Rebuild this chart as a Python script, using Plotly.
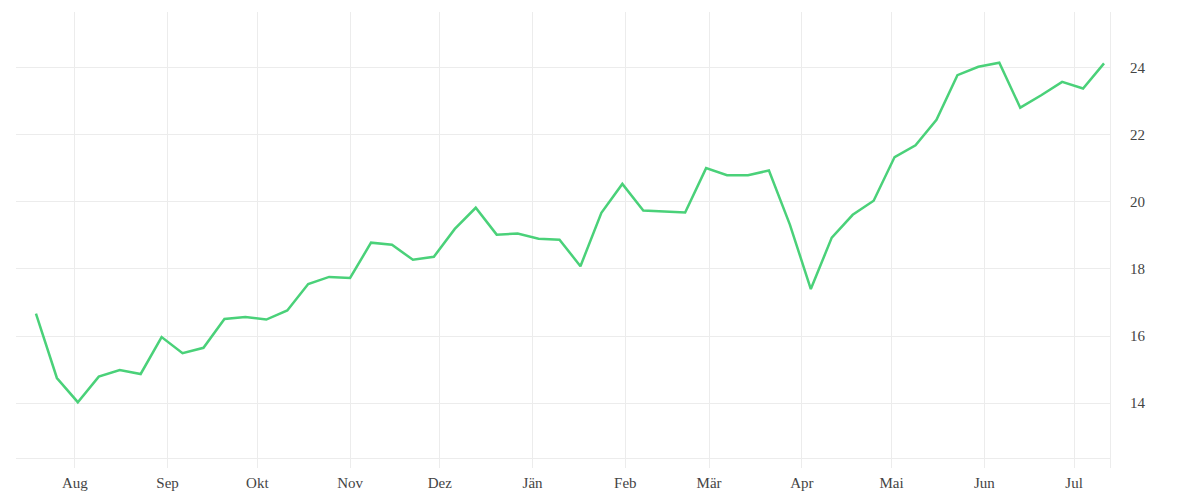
import pandas as pd
import plotly.graph_objects as go

# weekly values, first week 2020-07-19
start_date = "2020-07-19"
values = [16.67, 14.75, 14.03, 14.79, 14.99, 14.87, 15.97, 15.49, 15.65, 16.51,
          16.57, 16.49, 16.76, 17.55, 17.76, 17.73, 18.78, 18.72, 18.27, 18.36,
          19.19, 19.82, 19.02, 19.05, 18.90, 18.87, 18.08, 19.67, 20.53, 19.74,
          19.71, 19.68, 21.00, 20.79, 20.79, 20.93, 19.32, 17.40, 18.93, 19.61,
          20.03, 21.33, 21.68, 22.44, 23.77, 24.02, 24.14, 22.80, 23.17, 23.57,
          23.37, 24.12]
month_ticks = ["2020-08-01", "2020-09-01", "2020-10-01", "2020-11-01", "2020-12-01",
               "2021-01-01", "2021-02-01", "2021-03-01", "2021-04-01", "2021-05-01",
               "2021-06-01", "2021-07-01"]
month_labels = ["Aug", "Sep", "Okt", "Nov", "Dez", "Jän", "Feb", "Mär", "Apr",
                "Mai", "Jun", "Jul"]
# lowest grid line has no label
y_ticks = [12.36, 14, 16, 18, 20, 22, 24]
y_labels = ["", "14", "16", "18", "20", "22", "24"]

dates = pd.date_range(start_date, periods=len(values), freq="7D")

grid = "#ececec"
fig = go.Figure()
fig.add_trace(go.Scatter(x=dates, y=values, mode="lines",
                         line=dict(color="#4ad179", width=2.5),
                         showlegend=False))

# page body adds 8px around the figure
fig.update_layout(
    width=1184, height=492,
    margin=dict(l=8, r=82, t=4, b=32, autoexpand=False),
    paper_bgcolor="white", plot_bgcolor="white",
    font=dict(family="Liberation Serif", size=15, color="#444444"),
)
fig.update_xaxes(
    range=["2020-07-12 08:00", "2021-07-13"],
    tickvals=month_ticks, ticktext=month_labels,
    showgrid=True, gridcolor=grid, gridwidth=1,
    showline=False, zeroline=False, ticks="", ticklabelstandoff=4,
    automargin=False,
)
fig.update_yaxes(
    range=[12.07, 25.65], side="right",
    tickvals=y_ticks, ticktext=y_labels,
    showgrid=True, gridcolor=grid, gridwidth=1,
    showline=True, linecolor=grid, linewidth=1,
    zeroline=False, ticks="", ticklabelstandoff=16,
    automargin=False,
)

fig.write_html("out.html")
